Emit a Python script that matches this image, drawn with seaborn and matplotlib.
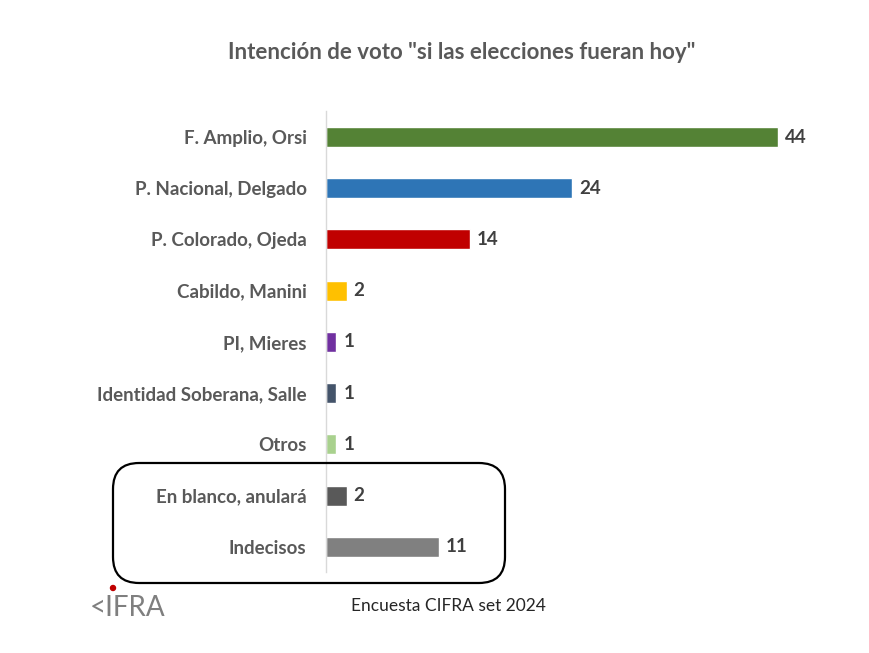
import numpy as np
import pandas as pd
import matplotlib.pyplot as plt
import seaborn as sns
from matplotlib.patches import FancyBboxPatch, Ellipse

candidatos = ["F. Amplio, Orsi", "P. Nacional, Delgado", "P. Colorado, Ojeda",
              "Cabildo, Manini", "PI, Mieres", "Identidad Soberana, Salle",
              "Otros", "En blanco, anulará", "Indecisos"]
votos = [44, 24, 14, 2, 1, 1, 1, 2, 11]
colores = ["#548235", "#2E75B6", "#C00000", "#FFC000", "#7030A0",
           "#44546A", "#A9D18E", "#595959", "#808080"]

sns.set_style("white")
plt.rcParams['font.family'] = ['Lato', 'DejaVu Sans']

df = pd.DataFrame({"cand": candidatos, "voto": votos})

fig = plt.figure(figsize=(8.7, 6.53), dpi=100)
ax = fig.add_axes([0.3747, 0.1234, 0.59, 0.706])
sns.barplot(data=df, x="voto", y="cand", hue="cand", palette=colores,
            legend=False, width=0.39, ax=ax, orient="h", saturation=1)

ax.set_xlim(0, 50)
ax.set_ylim(8.5, -0.5)
ax.set_xlabel("")
ax.set_ylabel("")
ax.set_xticks([])
for s in ["top", "right", "bottom"]:
    ax.spines[s].set_visible(False)
ax.spines["left"].set_color("#d9d9d9")
ax.spines["left"].set_linewidth(1)
ax.tick_params(axis="y", length=0, pad=14)
for t in ax.get_yticklabels():
    t.set_fontsize(13.5)
    t.set_fontweight("bold")
    t.set_color("#595959")

for i, v in enumerate(votos):
    ax.text(v + 0.7, i, str(v), va="center", ha="left", fontsize=13.5,
            fontweight="bold", color="#404040")

fig.text(0.531, 0.92, 'Intención de voto "si las elecciones fueran hoy"',
         ha="center", va="center", fontsize=16, fontweight="bold", color="#595959")

box = FancyBboxPatch((113 / 870, 1 - 583 / 653), (505 - 113) / 870, (583 - 463) / 653,
                     boxstyle="round,pad=0,rounding_size=0.03", transform=fig.transFigure,
                     fill=False, edgecolor="black", linewidth=1.6,
                     mutation_aspect=870 / 653)
fig.patches.append(box)

fig.text(0.515, 1 - 606 / 653, "Encuesta CIFRA set 2024", ha="center", va="center",
         fontsize=12.5, color="#262626")
# logo
fig.text(0.103, 1 - 608 / 653, "<IFRA", ha="left", va="center", fontsize=20,
         color="#7f7f7f")
fig.patches.append(Ellipse((113 / 870, 1 - 588 / 653), 5 / 870, 5 / 653,
                           transform=fig.transFigure, color="#C00000"))

fig.savefig("out.png", dpi=100)
